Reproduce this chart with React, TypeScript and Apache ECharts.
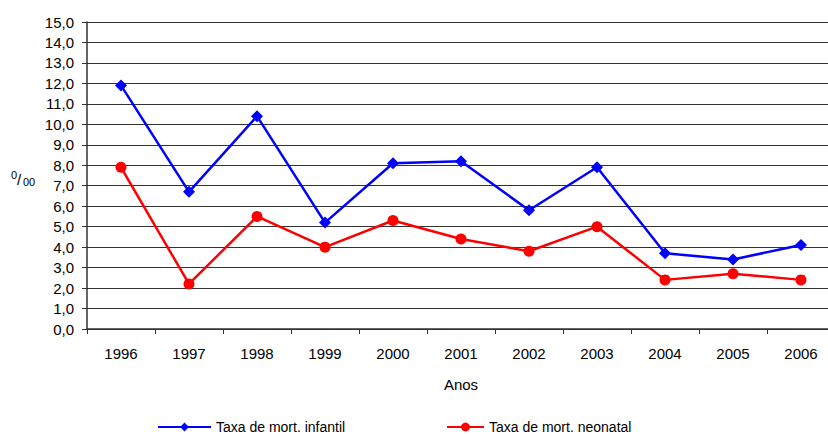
import React, { useEffect, useRef } from "react";
import * as echarts from "echarts";

const years = ["1996", "1997", "1998", "1999", "2000", "2001", "2002", "2003", "2004", "2005", "2006"];
const infantil = [11.9, 6.7, 10.4, 5.2, 8.1, 8.2, 5.8, 7.9, 3.7, 3.4, 4.1];
const neonatal = [7.9, 2.2, 5.5, 4.0, 5.3, 4.4, 3.8, 5.0, 2.4, 2.7, 2.4];
const nameInfantil = "Taxa de mort. infantil";
const nameNeonatal = "Taxa de mort. neonatal";
const xTitle = "Anos";

const FONT = "Liberation Sans, Arial, sans-serif";

export default function App() {
  const ref = useRef<HTMLDivElement>(null);
  useEffect(() => {
    if (!ref.current) return;
    const chart = echarts.init(ref.current, null, { renderer: "svg" });
    chart.setOption({
      animation: false,
      backgroundColor: "#fff",
      textStyle: { fontFamily: FONT },
      grid: { left: 87, right: 0, top: 22, bottom: 107 },
      xAxis: {
        type: "category",
        data: years,
        boundaryGap: true,
        name: xTitle,
        nameLocation: "middle",
        nameGap: 48,
        nameTextStyle: { fontSize: 15, color: "#000", fontFamily: FONT },
        axisLine: { lineStyle: { color: "#333", width: 1.5 } },
        axisTick: { show: true, length: 5, lineStyle: { color: "#333" } },
        axisLabel: { fontSize: 15, color: "#000", margin: 17, fontFamily: FONT },
        splitLine: { show: false },
      },
      yAxis: {
        type: "value",
        min: 0,
        max: 15,
        interval: 1,
        axisLine: { show: true, lineStyle: { color: "#333", width: 1.5 } },
        axisTick: { show: true, length: 5, lineStyle: { color: "#333" } },
        axisLabel: {
          fontSize: 15,
          color: "#000",
          margin: 13,
          fontFamily: FONT,
          formatter: (v: number) => v.toFixed(1).replace(".", ","),
        },
        splitLine: { show: true, lineStyle: { color: "#333", width: 1 } },
      },
      legend: [
        {
          data: [nameInfantil],
          left: 157,
          top: 420,
          padding: 0,
          itemWidth: 53,
          itemHeight: 11,
          textStyle: { fontSize: 14, color: "#000", fontFamily: FONT },
        },
        {
          data: [nameNeonatal],
          left: 446,
          top: 420,
          padding: 0,
          itemWidth: 37,
          itemHeight: 11,
          textStyle: { fontSize: 14, color: "#000", fontFamily: FONT },
        },
      ],
      graphic: [
        { type: "text", left: 11, top: 169, style: { text: "0", fontSize: 11, fill: "#000", fontFamily: FONT } },
        { type: "text", left: 17, top: 172, style: { text: "/", fontSize: 15, fill: "#000", fontFamily: FONT } },
        { type: "text", left: 23, top: 176, style: { text: "00", fontSize: 11, fill: "#000", fontFamily: FONT } },
      ],
      series: [
        {
          name: nameInfantil,
          type: "line",
          data: infantil,
          symbol: "diamond",
          symbolSize: 12,
          itemStyle: { color: "#0000ff" },
          lineStyle: { color: "#0000ff", width: 2.5 },
        },
        {
          name: nameNeonatal,
          type: "line",
          data: neonatal,
          symbol: "circle",
          symbolSize: 11,
          itemStyle: { color: "#ff0000" },
          lineStyle: { color: "#ff0000", width: 2.5 },
        },
      ],
    });
    return () => chart.dispose();
  }, []);
  return (
    <div style={{ position: "fixed", left: 0, top: 0, width: 828, height: 436, overflow: "hidden", background: "#fff" }}>
      <div ref={ref} style={{ width: 835, height: 436 }} />
    </div>
  );
}
